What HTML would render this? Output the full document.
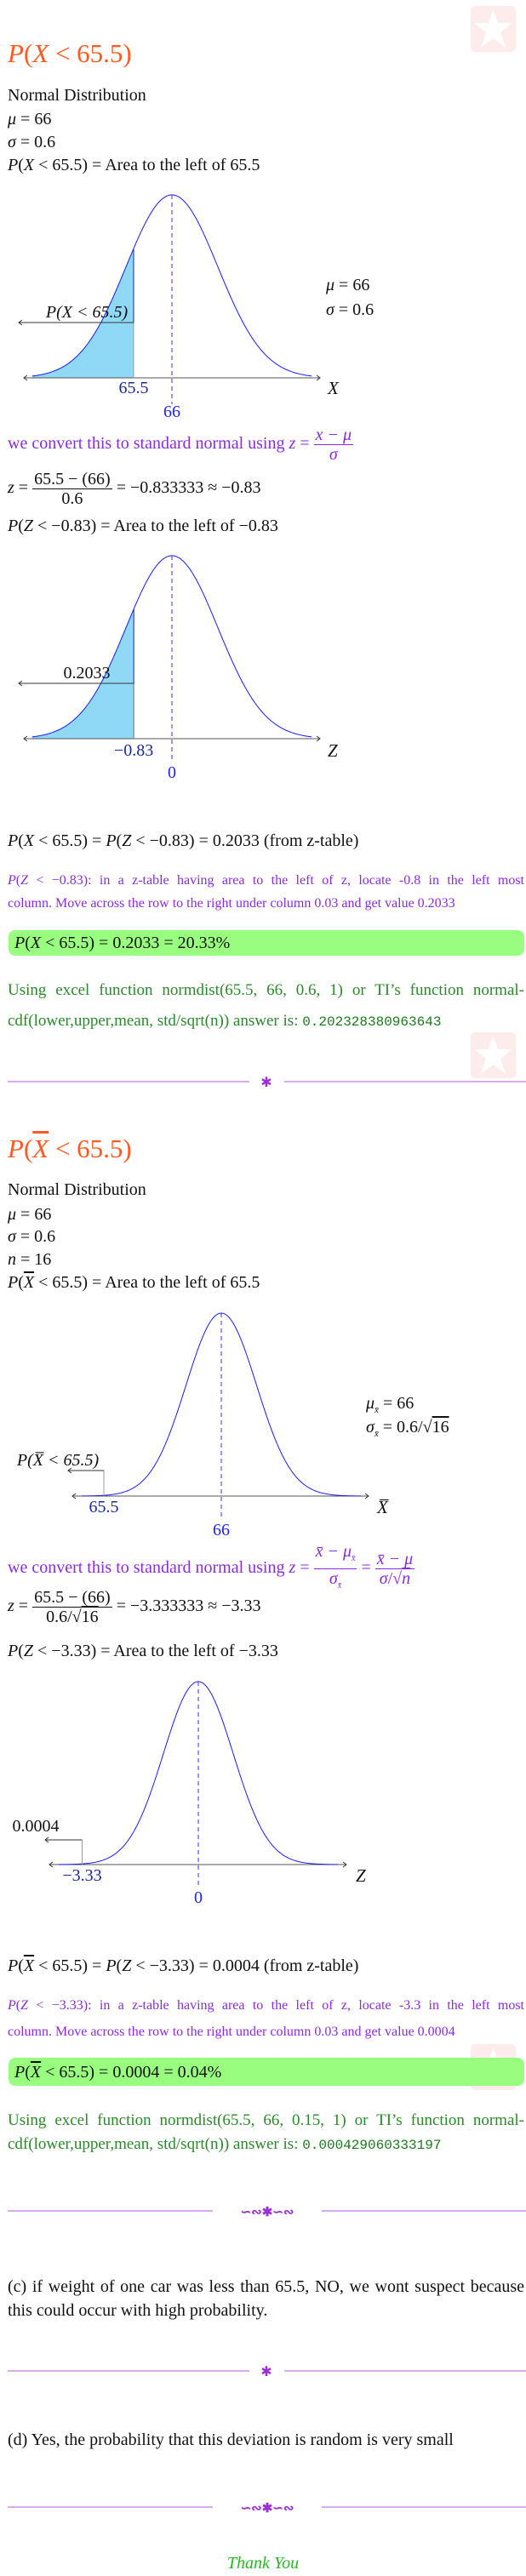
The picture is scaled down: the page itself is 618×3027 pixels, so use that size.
<!DOCTYPE html>
<html><head><meta charset="utf-8">
<style>
html,body{margin:0;padding:0;background:#fff}
body{width:618px;height:3027px;position:relative;overflow:hidden;font-family:"Liberation Serif",serif;color:#111}
.l{position:absolute;left:9px;font-size:20px;line-height:24px;white-space:nowrap}
.i{font-style:italic}
.t{position:absolute;left:9px;font-size:31px;line-height:34px;color:#ff5a1f;white-space:nowrap}
.p{position:absolute;left:9px;width:607px;font-size:16px;line-height:20px;color:#8a2be2;text-align:justify;text-align-last:justify;white-space:nowrap}
.g{position:absolute;left:9px;width:607px;font-size:19px;line-height:22px;color:#2a8a2a;white-space:nowrap}
.j{text-align:justify;text-align-last:justify}
.mono{font-family:"Liberation Mono",monospace;font-size:16px;color:#1a7a1a}
.box{position:absolute;left:10px;width:606px;background:#99fd80;border-radius:8px}
.frac{display:inline-block;vertical-align:middle;text-align:center;line-height:22px}
.frac>span{display:block}
.frac .num{border-bottom:1px solid currentColor;padding:0 2px}
.sep{position:absolute;left:9px;width:609px;height:14px}
.wm{position:absolute;width:53px;height:54px;background:#fdeaea;border-radius:5px;opacity:.9}
.ov{text-decoration:overline}
</style></head><body>

<div class="wm" style="left:553px;top:7px"><svg width="53" height="54" viewBox="0 0 53 54"><polygon points="26.5,4 32,20 49,20 35,31 41,49 26.5,38 12,49 18,31 4,20 21,20" fill="#fff"/></svg></div>
<div class="wm" style="left:553px;top:1213px"><svg width="53" height="54" viewBox="0 0 53 54"><polygon points="26.5,4 32,20 49,20 35,31 41,49 26.5,38 12,49 18,31 4,20 21,20" fill="#fff"/></svg></div>
<div class="wm" style="left:553px;top:2402px"><svg width="53" height="54" viewBox="0 0 53 54"><polygon points="26.5,4 32,20 49,20 35,31 41,49 26.5,38 12,49 18,31 4,20 21,20" fill="#fff"/></svg></div>

<!-- Section 1 -->
<div class="t" style="top:46px"><span class="i">P</span>(<span class="i">X</span> &lt; 65.5)</div>
<div class="l" style="top:100px">Normal Distribution</div>
<div class="l" style="top:128px"><span class="i">μ</span> = 66</div>
<div class="l" style="top:155px"><span class="i">σ</span> = 0.6</div>
<div class="l" style="top:182px"><span class="i">P</span>(<span class="i">X</span> &lt; 65.5) = Area to the left of 65.5</div>
<div class="l" style="left:383px;top:323px"><span class="i">μ</span> = 66</div>
<div class="l" style="left:383px;top:352px"><span class="i">σ</span> = 0.6</div>

<div class="l" style="top:500px;color:#8a2be2;line-height:36px">we convert this to standard normal using <span class="i">z</span> = <span class="frac"><span class="num i">x − μ</span><span class="i">σ</span></span></div>
<div class="l" style="top:552px;line-height:40px"><span class="i">z</span> = <span class="frac"><span class="num">65.5 − (66)</span><span>0.6</span></span> = −0.833333 ≈ −0.83</div>
<div class="l" style="top:606px"><span class="i">P</span>(<span class="i">Z</span> &lt; −0.83) = Area to the left of −0.83</div>

<div class="l" style="top:976px"><span class="i">P</span>(<span class="i">X</span> &lt; 65.5) = <span class="i">P</span>(<span class="i">Z</span> &lt; −0.83) = 0.2033 (from z-table)</div>
<div class="p" style="top:1025px"><span class="i">P</span>(<span class="i">Z</span> &lt; −0.83): in a z-table having area to the left of z, locate -0.8 in the left most</div>
<div class="p" style="top:1052px;text-align-last:left">column. Move across the row to the right under column 0.03 and get value 0.2033</div>
<div class="box" style="top:1093px;height:30px"></div>
<div class="l" style="left:17px;top:1096px"><span class="i">P</span>(<span class="i">X</span> &lt; 65.5) = 0.2033 = 20.33%</div>
<div class="g j" style="top:1153px">Using excel function normdist(65.5, 66, 0.6, 1) or TI’s function normal-</div>
<div class="g" style="top:1189px">cdf(lower,upper,mean, std/sqrt(n)) answer is: <span class="mono">0.202328380963643</span></div>

<svg class="sep" style="top:1264px" viewBox="0 0 609 14"><line x1="0" y1="7" x2="284" y2="7" stroke="#cf8ef0" stroke-width="1.5"/><line x1="325" y1="7" x2="609" y2="7" stroke="#cf8ef0" stroke-width="1.5"/><text x="304" y="13" text-anchor="middle" font-size="16" fill="#9b30d9">✱</text></svg>

<!-- Section 2 -->
<div class="t" style="top:1333px"><span class="i">P</span>(<span class="i ov">X</span> &lt; 65.5)</div>
<div class="l" style="top:1386px">Normal Distribution</div>
<div class="l" style="top:1415px"><span class="i">μ</span> = 66</div>
<div class="l" style="top:1441px"><span class="i">σ</span> = 0.6</div>
<div class="l" style="top:1468px"><span class="i">n</span> = 16</div>
<div class="l" style="top:1495px"><span class="i">P</span>(<span class="i ov">X</span> &lt; 65.5) = Area to the left of 65.5</div>
<div class="l" style="left:430px;top:1637px"><span class="i">μ<sub style="font-size:11px">x̄</sub></span> = 66</div>
<div class="l" style="left:430px;top:1665px"><span class="i">σ<sub style="font-size:11px">x̄</sub></span> = 0.6/√<span class="ov">16</span></div>

<div class="l" style="top:1812px;color:#8a2be2;line-height:40px">we convert this to standard normal using <span class="i">z</span> = <span class="frac"><span class="num i">x̄ − μ<sub style="font-size:10px">x̄</sub></span><span class="i">σ<sub style="font-size:10px">x̄</sub></span></span> = <span class="frac"><span class="num i">x̄ − μ</span><span><span class="i">σ</span>/√<span class="i ov">n</span></span></span></div>
<div class="l" style="top:1866px;line-height:40px"><span class="i">z</span> = <span class="frac"><span class="num">65.5 − (66)</span><span>0.6/√<span class="ov">16</span></span></span> = −3.333333 ≈ −3.33</div>
<div class="l" style="top:1928px"><span class="i">P</span>(<span class="i">Z</span> &lt; −3.33) = Area to the left of −3.33</div>

<div class="l" style="top:2298px"><span class="i">P</span>(<span class="i ov">X</span> &lt; 65.5) = <span class="i">P</span>(<span class="i">Z</span> &lt; −3.33) = 0.0004 (from z-table)</div>
<div class="p" style="top:2347px"><span class="i">P</span>(<span class="i">Z</span> &lt; −3.33): in a z-table having area to the left of z, locate -3.3 in the left most</div>
<div class="p" style="top:2378px;text-align-last:left">column. Move across the row to the right under column 0.03 and get value 0.0004</div>
<div class="box" style="top:2418px;height:33px"></div>
<div class="l" style="left:17px;top:2423px"><span class="i">P</span>(<span class="i ov">X</span> &lt; 65.5) = 0.0004 = 0.04%</div>
<div class="g j" style="top:2481px">Using excel function normdist(65.5, 66, 0.15, 1) or TI’s function normal-</div>
<div class="g" style="top:2509px">cdf(lower,upper,mean, std/sqrt(n)) answer is: <span class="mono">0.000429060333197</span></div>

<svg class="sep" style="top:2591px" viewBox="0 0 609 14"><line x1="0" y1="7" x2="241" y2="7" stroke="#cf8ef0" stroke-width="1.5"/><line x1="369" y1="7" x2="609" y2="7" stroke="#cf8ef0" stroke-width="1.5"/><text x="305" y="13" text-anchor="middle" font-size="15" fill="#9b30d9" font-weight="bold">∽∾✱∽∾</text></svg>

<div class="l j" style="top:2675px;width:607px">(c) if weight of one car was less than 65.5, NO, we wont suspect because</div>
<div class="l" style="top:2703px">this could occur with high probability.</div>
<svg class="sep" style="top:2779px" viewBox="0 0 609 14"><line x1="0" y1="7" x2="284" y2="7" stroke="#cf8ef0" stroke-width="1.5"/><line x1="325" y1="7" x2="609" y2="7" stroke="#cf8ef0" stroke-width="1.5"/><text x="304" y="13" text-anchor="middle" font-size="16" fill="#9b30d9">✱</text></svg>
<div class="l" style="top:2855px">(d) Yes, the probability that this deviation is random is very small</div>
<svg class="sep" style="top:2939px" viewBox="0 0 609 14"><line x1="0" y1="7" x2="241" y2="7" stroke="#cf8ef0" stroke-width="1.5"/><line x1="369" y1="7" x2="609" y2="7" stroke="#cf8ef0" stroke-width="1.5"/><text x="305" y="13" text-anchor="middle" font-size="15" fill="#9b30d9" font-weight="bold">∽∾✱∽∾</text></svg>
<div class="l i" style="left:0;width:618px;text-align:center;top:3000px;color:#22bb22">Thank You</div>

<svg id="charts" width="618" height="3027" style="position:absolute;left:0;top:0" xmlns="http://www.w3.org/2000/svg"></svg>

<script>
// Chart data
const chartMeans = [66, 0, 66, 0];
const chartSds = [0.6, 1, 0.15, 1];
const chartCutoffs = [65.5, -0.83, 65.5, -3.33];
const chartCutoffLabels = ["65.5", "−0.83", "65.5", "−3.33"];
const chartMeanLabels = ["66", "0", "66", "0"];
const chartAreaLabels = ["P(X < 65.5)", "0.2033", "P(X̅ < 65.5)", "0.0004"];
const chartAxisLetters = ["X", "Z", "X̅", "Z"];

// Layout (pixels only)
const layouts = [
  {cx:202, sdPx:54, span:3.04, axisY:444, peakH:215, axL:28, axR:376, arrowH:65, arrowL:22, labelX:102, labelDy:11, cutLabY:462, meanLabY:490, dashEnd:475, letterX:385},
  {cx:202, sdPx:54, span:3.04, axisY:868, peakH:215, axL:28, axR:376, arrowH:65, arrowL:22, labelX:102, labelDy:11, cutLabY:888, meanLabY:914, dashEnd:895, letterX:385},
  {cx:260, sdPx:41.4, span:3.96, axisY:1758, peakH:215, axL:85, axR:433, arrowH:30, arrowL:80, labelX:68, labelDy:11, cutLabY:1777, meanLabY:1804, dashEnd:1785, letterX:443},
  {cx:233, sdPx:41, span:4.0, axisY:2191, peakH:215, axL:58, axR:407, arrowH:29, arrowL:53, labelX:42, labelDy:15, cutLabY:2210, meanLabY:2236, dashEnd:2218, letterX:418}
];

const NS = "http://www.w3.org/2000/svg";
const svg = document.getElementById("charts");
function mk(tag, attrs, parent) {
  const e = document.createElementNS(NS, tag);
  for (const k in attrs) e.setAttribute(k, attrs[k]);
  (parent || svg).appendChild(e);
  return e;
}
function pdf(z) { return Math.exp(-z * z / 2); }

chartMeans.forEach((mean, c) => {
  const L = layouts[c], sd = chartSds[c];
  const xOf = v => L.cx + (v - mean) / sd * L.sdPx;
  const yOfZ = z => L.axisY - L.peakH * pdf(z);
  const g = mk("g", {});
  
  

  const zc = (chartCutoffs[c] - mean) / sd;
  let d = "M" + xOf(mean - L.span * sd) + "," + L.axisY;
  const steps = 120;
  for (let i = 0; i <= steps; i++) {
    const z = -L.span + (zc + L.span) * i / steps;
    d += " L" + (L.cx + z * L.sdPx).toFixed(2) + "," + yOfZ(z).toFixed(2);
  }
  d += " L" + xOf(chartCutoffs[c]) + "," + L.axisY + " Z";
  const area = mk("path", {d: d, fill: "#8fd8f6", stroke: "none"}, g);
  
  

  const ax = mk("line", {x1: L.axL, y1: L.axisY, x2: L.axR, y2: L.axisY, stroke: "#555", "stroke-width": 1}, g);
  
  
  mk("path", {d: `M${L.axL+4},${L.axisY-3} L${L.axL},${L.axisY} L${L.axL+4},${L.axisY+3}`, fill: "none", stroke: "#333"}, g);
  mk("path", {d: `M${L.axR-4},${L.axisY-3} L${L.axR},${L.axisY} L${L.axR-4},${L.axisY+3}`, fill: "none", stroke: "#333"}, g);

  let cd = "";
  for (let i = 0; i <= 300; i++) {
    const z = -L.span + 2 * L.span * i / 300;
    cd += (i ? " L" : "M") + (L.cx + z * L.sdPx).toFixed(2) + "," + yOfZ(z).toFixed(2);
  }
  const curve = mk("path", {d: cd, fill: "none", stroke: "#1a1aff", "stroke-width": 1}, g);
  
  

  const xc = xOf(chartCutoffs[c]);
  const cut = mk("line", {x1: xc, y1: yOfZ(zc), x2: xc, y2: L.axisY, stroke: "#1a2a99", "stroke-width": 1}, g);
  
  

  const xm = xOf(mean);
  const ml = mk("line", {x1: xm, y1: L.axisY - L.peakH, x2: xm, y2: L.dashEnd, stroke: "#3333ff", "stroke-width": 1, "stroke-dasharray": "5,4"}, g);
  
  

  const ay = L.axisY - L.arrowH;
  mk("line", {x1: xc, y1: ay, x2: xc, y2: L.axisY, stroke: "#999", "stroke-width": 1}, g);
  const arr = mk("line", {x1: L.arrowL, y1: ay, x2: xc, y2: ay, stroke: "#333", "stroke-width": 1}, g);
  
  
  mk("path", {d: `M${L.arrowL+4},${ay-3} L${L.arrowL},${ay} L${L.arrowL+4},${ay+3}`, fill: "none", stroke: "#333"}, g);

  const al = mk("text", {x: L.labelX, y: ay - L.labelDy + 5, "text-anchor": "middle", "font-family": "Liberation Serif, serif", "font-size": 20, fill: "#111", "font-style": chartAreaLabels[c].startsWith("P") ? "italic" : "normal"}, g);
  al.textContent = chartAreaLabels[c];
  
  

  const cl = mk("text", {x: xc, y: L.cutLabY, "text-anchor": "middle", "font-family": "Liberation Serif, serif", "font-size": 20, fill: "#1a2a99"}, g);
  cl.textContent = chartCutoffLabels[c];
  
  

  const mlab = mk("text", {x: xm, y: L.meanLabY, "text-anchor": "middle", "font-family": "Liberation Serif, serif", "font-size": 20, fill: "#2222ff"}, g);
  mlab.textContent = chartMeanLabels[c];
  
  

  const lt = mk("text", {x: L.letterX, y: L.cutLabY + 1, "font-family": "Liberation Serif, serif", "font-size": 21, "font-style": "italic", fill: "#111"}, g);
  lt.textContent = chartAxisLetters[c];
  
  
});
</script>
</body></html>
